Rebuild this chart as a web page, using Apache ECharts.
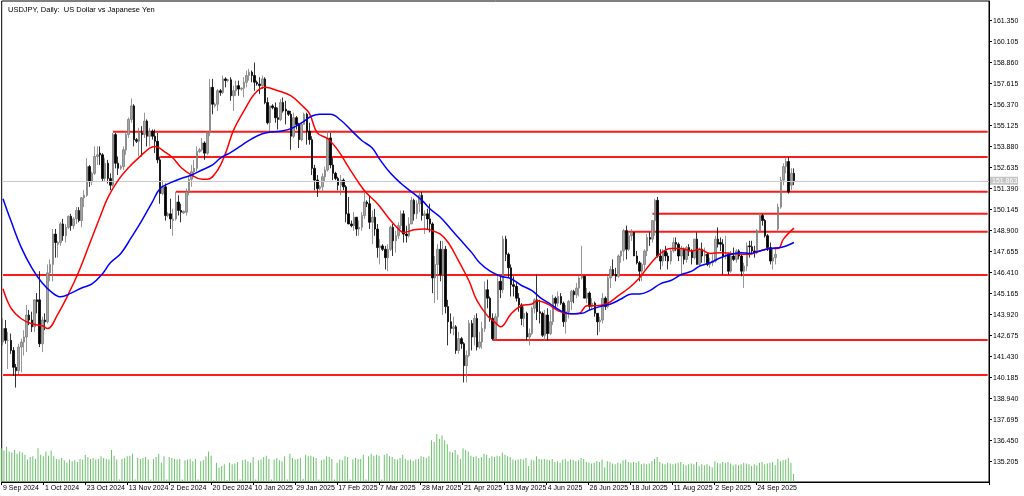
<!DOCTYPE html>
<html><head><meta charset="utf-8">
<script src="https://cdn.jsdelivr.net/npm/echarts@6/dist/echarts.min.js"></script>
<style>html,body{margin:0;padding:0;background:#fff}#c{width:1024px;height:496px}</style>
</head><body><div id="c"></div>
<script>
const chartTitle = 'USDJPY, Daily:  US Dollar vs Japanese Yen';
const lastPrice = 151.863;
const yTicks = [161.350,160.105,158.860,157.615,156.370,155.125,153.880,152.635,151.390,150.145,148.900,147.655,146.410,145.165,143.920,142.675,141.430,140.185,138.940,137.695,136.450,135.205];
const xTickLabels = ['9 Sep 2024','1 Oct 2024','23 Oct 2024','13 Nov 2024','2 Dec 2024','20 Dec 2024','10 Jan 2025','29 Jan 2025','17 Feb 2025','7 Mar 2025','28 Mar 2025','21 Apr 2025','13 May 2025','4 Jun 2025','26 Jun 2025','18 Jul 2025','11 Aug 2025','2 Sep 2025','24 Sep 2025'];
// daily bars: [open, high, low, close]
const ohlc = [
[142.3,143.7,142.1,143.1],[143.1,143.6,142.2,142.4],[142.4,142.9,140.7,142.4],[142.4,142.8,141.6,141.8],[141.8,142.0,140.3,140.8],
[140.8,141.0,139.6,140.6],[140.6,142.2,140.4,142.0],[142.0,142.5,140.5,142.3],[142.3,143.0,141.5,142.6],[142.6,144.5,141.7,143.9],
[143.9,144.2,143.3,143.6],[143.6,144.1,142.9,143.2],[143.2,144.8,142.9,144.8],[144.8,145.2,144.0,144.7],[144.8,146.5,142.0,142.2],
[142.2,143.8,141.7,143.6],[143.6,144.0,143.0,143.5],[143.5,146.9,143.4,146.4],[146.4,147.2,145.9,146.9],[146.9,149.0,145.9,148.7],
[148.7,149.0,147.3,148.2],[148.1,148.3,147.3,148.2],[148.2,149.4,148.0,149.3],[149.3,149.6,148.3,148.6],[148.6,149.3,148.2,149.1],
[149.1,149.8,149.0,149.75],[149.75,149.9,148.9,149.2],[149.2,149.7,149.0,149.6],[149.6,150.3,149.3,150.1],[150.1,150.3,149.4,149.5],
[149.5,150.9,149.1,150.85],[150.85,151.3,150.3,151.0],[151.0,153.2,150.9,152.7],[152.7,152.8,151.5,151.8],[151.8,152.4,151.6,152.3],
[152.3,153.9,152.2,153.3],[153.3,153.9,152.8,153.4],[153.5,153.9,152.8,153.4],[153.4,153.5,151.8,152.0],[152.0,153.2,151.8,152.9],
[152.9,153.1,151.7,152.0],[152.0,152.3,151.3,151.6],[151.6,154.7,151.5,154.6],[154.6,154.7,152.6,152.9],[152.9,153.3,152.2,152.6],
[152.6,152.8,152.5,152.7],[152.7,153.9,152.5,153.7],[153.7,154.8,153.4,154.6],[154.6,155.6,154.4,155.5],[155.5,156.75,155.3,156.3],
[156.3,156.4,153.9,154.3],[154.3,154.4,154.1,154.2],[154.2,155.0,153.3,154.7],[154.7,155.1,153.3,154.6],[154.6,155.9,154.4,155.4],
[155.4,155.5,153.9,154.5],[154.5,155.0,153.9,154.8],[154.8,154.9,154.3,154.5],[154.5,154.9,153.5,154.2],[154.2,154.7,152.9,153.1],
[153.1,153.3,150.5,151.1],[151.1,151.9,151.0,151.5],[151.5,151.7,149.5,149.8],[149.8,150.0,149.7,149.9],[149.9,150.8,149.0,149.6],
[149.5,150.2,148.6,149.6],[149.6,151.2,149.5,150.6],[150.6,151.0,149.8,150.1],[150.1,150.5,149.4,150.0],[149.95,150.1,149.9,150.05],
[150.0,151.4,149.8,151.2],[151.2,152.1,151.0,151.95],[151.95,152.8,151.5,152.4],[152.4,153.1,152.1,152.6],[152.6,153.9,152.4,153.6],
[153.6,153.8,153.5,153.7],[153.7,154.4,153.6,154.1],[154.1,154.2,153.1,153.5],[153.5,154.8,153.4,154.7],[154.7,157.9,154.5,157.4],
[157.4,157.9,155.8,156.4],[156.3,156.5,156.2,156.4],[156.4,157.3,156.0,157.2],[157.2,157.3,156.9,157.1],[157.1,158.1,157.0,157.9],
[157.9,158.0,157.4,157.8],[157.8,157.9,157.7,157.85],[157.85,158.0,156.6,156.9],[156.9,157.5,156.0,157.2],[157.2,157.8,156.9,157.5],
[157.5,157.8,156.9,157.3],[157.3,157.4,157.2,157.35],[157.35,158.0,156.8,157.7],[157.7,158.4,157.4,158.1],[158.1,158.5,157.8,158.3],
[158.3,158.4,157.7,158.1],[158.1,158.87,157.2,157.7],[157.7,157.8,157.5,157.6],[157.6,158.0,157.0,157.5],[157.5,158.1,157.3,157.9],
[157.9,158.0,156.4,156.5],[156.5,156.8,155.2,155.3],[155.3,156.3,154.8,156.3],[156.3,156.4,156.1,156.2],[156.2,156.5,155.3,155.6],
[155.6,156.2,154.9,155.5],[155.5,156.7,155.4,156.5],[156.5,156.8,155.9,156.0],[156.1,156.6,155.2,156.0],[156.0,156.0,155.7,155.8],
[155.8,156.0,153.7,154.5],[154.5,155.9,154.4,155.6],[155.6,155.7,154.9,155.2],[155.2,155.3,153.8,154.3],[154.3,155.3,154.2,155.2],
[155.2,155.9,155.2,155.8],[155.8,155.9,154.0,154.8],[154.8,155.3,154.0,154.3],[154.3,154.5,152.2,152.6],[152.6,152.8,151.3,151.9],
[151.9,152.2,150.9,151.4],[151.4,151.6,151.3,151.5],[151.5,152.3,151.2,152.1],[152.1,152.7,151.8,152.5],[152.5,154.8,152.4,154.4],
[154.4,154.7,152.6,152.8],[152.8,153.2,151.9,152.3],[152.3,152.4,151.9,152.0],[152.0,152.1,151.3,151.6],[151.6,152.2,151.0,151.9],
[151.9,152.0,151.3,151.5],[151.5,151.6,149.4,149.9],[149.9,150.9,149.3,149.3],[149.3,149.5,149.1,149.2],[149.2,150.0,148.9,149.7],
[149.7,149.7,148.6,149.0],[149.0,149.5,148.6,149.1],[149.1,150.0,148.9,149.8],[149.8,151.2,149.6,150.6],[150.6,150.7,150.3,150.5],
[150.5,151.0,149.0,149.4],[149.4,150.1,148.1,149.7],[149.7,150.2,148.6,149.0],[149.0,149.3,147.3,147.9],[147.9,148.4,146.9,148.0],
[148.0,148.1,147.7,147.8],[147.8,148.0,146.6,147.3],[147.3,148.1,146.5,147.8],[147.8,149.2,147.7,149.1],[149.1,149.3,147.4,148.3],
[148.3,148.9,147.6,148.6],[148.6,149.4,148.4,149.2],[149.2,150.1,149.0,149.9],[149.9,150.1,148.2,148.7],[148.7,149.2,148.2,148.6],
[148.6,149.7,148.5,149.3],[149.3,150.9,149.3,150.7],[150.7,150.8,149.5,149.9],[149.9,150.7,149.6,150.5],[150.5,151.2,150.0,151.0],
[151.0,151.2,149.5,149.8],[149.8,150.1,148.7,149.9],[149.9,150.2,149.0,149.6],[149.6,150.5,148.8,149.3],[149.3,149.4,145.2,146.1],
[146.1,147.4,144.6,146.9],[146.9,148.1,144.8,147.8],[147.8,148.3,145.9,146.3],[146.3,148.3,143.9,147.8],[147.8,148.0,144.0,144.4],
[144.4,144.8,142.1,143.5],[143.5,144.0,142.8,143.1],[143.1,143.8,142.7,143.2],[143.2,143.3,141.6,141.8],[141.8,142.9,141.6,142.5],
[142.5,142.6,141.9,142.2],[142.2,142.3,139.9,140.9],[140.9,141.8,139.9,141.5],[141.5,143.6,141.4,143.4],[143.4,143.6,141.8,142.6],
[142.6,143.9,142.1,143.7],[143.7,144.0,141.8,142.0],[142.0,142.9,141.9,142.3],[142.3,143.5,141.9,143.1],[143.1,145.9,142.9,145.4],
[145.4,146.0,144.3,144.9],[144.9,145.0,143.5,143.7],[143.7,144.0,142.4,142.5],[142.5,144.0,142.4,143.8],[143.8,146.2,143.4,145.9],
[145.9,146.2,144.9,145.4],[145.4,148.6,145.2,148.4],[148.4,148.6,147.1,147.5],[147.5,147.6,146.1,146.7],[146.7,146.9,145.0,145.7],
[145.7,146.2,145.0,145.6],[145.6,145.8,144.7,144.9],[144.9,145.2,144.1,144.5],[144.5,144.6,143.3,143.7],[143.7,144.4,143.2,144.0],
[144.0,144.1,142.4,142.6],[142.6,143.1,142.1,142.8],[142.8,144.4,142.7,144.3],[144.3,144.9,144.0,144.8],[144.8,146.3,143.6,144.1],
[144.1,144.8,143.4,144.0],[144.0,144.1,142.6,142.7],[142.7,144.2,142.4,143.9],[143.9,144.3,142.4,142.8],[142.8,144.2,142.7,143.5],
[143.5,145.1,143.3,144.9],[144.9,145.0,144.2,144.6],[144.6,145.3,144.4,145.0],[145.0,145.2,144.5,144.6],[144.6,144.7,143.2,143.5],
[143.5,144.5,142.8,144.1],[144.1,144.8,143.7,144.7],[144.7,145.4,144.2,145.3],[145.3,145.4,144.6,145.1],[145.1,145.8,144.9,145.5],
[145.5,146.2,145.0,146.1],[146.1,148.0,146.0,146.2],[146.2,146.2,144.9,144.9],[144.9,145.5,144.6,145.2],[145.2,145.3,144.2,144.4],
[144.4,144.9,144.2,144.6],[144.6,144.7,143.8,144.0],[144.0,144.0,142.7,143.5],[143.5,143.8,142.9,143.6],[143.6,145.2,143.4,144.9],
[144.9,145.0,144.2,144.4],[144.4,146.2,144.3,146.1],[146.1,146.8,145.5,146.6],[146.6,147.2,146.2,146.3],[146.3,146.7,145.9,146.2],
[146.2,147.5,146.1,147.4],[147.4,147.7,147.0,147.7],[147.7,149.0,147.1,148.9],[148.9,149.2,147.2,147.8],[147.8,148.8,147.7,148.6],
[148.6,149.0,148.3,148.8],[148.8,148.8,147.4,147.4],[147.4,147.7,146.9,147.0],[147.0,147.1,145.9,146.5],[146.5,147.0,145.9,146.9],
[146.9,147.8,146.6,147.7],[147.7,148.7,147.4,148.5],[148.5,148.8,148.0,148.4],[148.4,149.5,148.2,149.5],[149.5,150.8,148.6,150.7],
[150.7,150.9,147.3,147.4],[147.4,147.8,146.6,147.1],[147.1,147.8,146.8,147.7],[147.7,148.0,147.1,147.4],[147.4,147.6,146.6,147.1],
[147.1,147.8,146.9,147.7],[147.7,148.5,147.6,148.2],[148.2,148.5,147.7,148.1],[148.1,148.2,147.1,147.4],[147.4,148.0,146.2,147.8],
[147.8,147.9,146.9,147.2],[147.2,148.0,147.0,147.9],[147.9,148.1,147.4,147.7],[147.7,147.8,146.9,147.3],[147.3,148.4,147.2,148.4],
[148.4,148.8,146.9,146.9],[146.9,147.9,146.8,147.8],[147.8,148.2,147.0,147.4],[147.4,147.9,147.0,147.5],[147.5,147.6,146.8,146.9],
[146.9,147.3,146.7,147.0],[147.0,147.5,146.8,147.1],[147.1,148.6,147.0,148.4],[148.4,149.1,147.9,148.1],[148.2,148.5,147.7,148.1],
[148.1,148.4,146.3,147.4],[147.4,148.6,147.2,147.5],[147.5,147.6,146.3,146.5],[146.5,147.7,146.4,147.4],[147.4,147.9,147.1,147.2],
[147.2,147.8,147.0,147.7],[147.7,147.8,147.2,147.4],[147.4,147.5,146.2,146.5],[146.5,147.0,145.5,146.8],[146.8,148.2,146.5,148.0],
[148.0,148.3,147.3,147.95],[147.95,148.3,147.5,147.7],[147.7,148.0,147.3,147.6],[147.6,149.0,147.5,148.9],[148.9,149.96,148.8,149.8],
[149.8,149.9,149.2,149.5],[149.5,149.6,148.5,148.6],[148.6,148.7,147.7,147.9],[147.9,148.2,146.9,147.1],[147.1,147.8,146.6,147.3],
[147.3,147.9,146.9,147.5],[149.0,150.5,148.9,150.3],[150.3,152.1,150.2,151.9],[151.9,152.9,151.6,152.7],[152.7,153.2,152.3,153.0],
[153.0,153.27,151.1,151.2],[151.6,152.6,151.3,152.3],[152.3,152.6,151.6,151.863]
];
// tick volume per bar
const volumes = [
105,98,110,95,92,100,88,95,92,85,70,78,80,72,105,85,
80,95,82,98,80,72,70,75,68,60,70,65,68,62,72,70,85,78,72,75,70,72,80,
75,72,70,100,82,70,
8,72,75,80,82,88, 8,75,72,75,78,70, 8,72,78,88,60,80, 8,78,75,72,70,72, 8,68,70,72,65,72, 8,65,68,80,95,82,
6,60,45,50,55, 6,60,55,58,62,
8,68,70,65,60,78, 8,68,70,78,82,72, 8,70,75,68,65,80, 8,88,75,70,72,75, 10,85,80,82,78,75,
8,68,70,80,78,72, 8,60,70,68,80,78, 8,70,75,72,72,85, 8,80,88,82,85,82, 8,85,88,80,78,72,
70,75,85,72,68, 70,65,70,72,80, 78,75,80,130,125, 150,135,145,130,118, 95,92,100,85,72,
105,100,95,82,78, 80,75,78,88,85, 75,80,78,82,80, 92,85,80,78,70, 68,70,72,70,75,
50,70,68,80,72, 70,72,70,68,72, 62,65,60,70,72, 65,70,68,65,68, 75,72,62,60,58,
60,65,62,70,45, 65,62,58,55,60, 58,68,70,62,60, 62,60,65,55,58, 55,58,65,72,78,
62,58,55,60,58, 55,58,60,62,55, 52,55,58,55,62, 50,55,52,55,50, 45,65,60,58,62,
60,62,58,52,55, 52,55,60,58,55, 50,55,52,60,62, 55,58,60,62,52, 72,65,68,70,75, 60,25
];
// moving averages: [bar index, value]
const maFast = [[0,145.46],[3,144.33],[7,143.68],[11,143.38],[15,143.26],[17,143.1],[21,143.97],[25,145.15],[29,146.5],[33,148.1],[37,149.7],[40,150.85],[44,151.9],[48,152.65],[52,153.25],[56,153.8],[58,153.9],[62,153.55],[65,153.2],[68,152.65],[72,152.2],[76,151.95],[78,151.95],[82,152.5],[85,153.5],[88,154.85],[92,156.0],[96,157.0],[100,157.4],[105,157.2],[110,156.9],[114,156.35],[117,155.85],[120,154.7],[124,154.35],[128,153.65],[132,152.65],[136,151.7],[139,151.1],[143,150.5],[147,149.7],[151,149.0],[153,148.8],[157,148.95],[161,149.0],[163,148.95],[167,148.7],[170,148.2],[174,147.1],[178,145.9],[181,144.75],[185,143.85],[188,143.45],[190,143.2],[194,143.97],[198,144.45],[202,144.55],[204,144.75],[208,144.55],[212,144.15],[216,143.97],[220,144.0],[223,144.45],[227,144.45],[231,144.6],[235,145.05],[239,145.5],[243,146.1],[247,146.9],[251,147.55],[255,147.85],[259,147.85],[263,147.7],[266,147.8],[270,147.55],[274,147.6],[278,147.55],[282,147.5],[285,147.5],[289,147.7],[293,147.85],[296,147.85],[298,148.4],[302,149.05]];
const maSlow = [[0,150.8],[3,149.5],[7,147.9],[11,146.7],[15,145.8],[19,145.2],[22,144.98],[26,145.2],[30,145.5],[34,145.75],[38,146.35],[41,147.0],[45,147.55],[49,148.5],[53,149.5],[57,150.6],[60,151.4],[64,151.75],[68,152.0],[72,152.2],[76,152.5],[80,152.8],[83,153.2],[87,153.55],[91,153.95],[95,154.35],[99,154.65],[102,154.75],[106,154.8],[110,154.95],[114,155.3],[118,155.7],[121,155.8],[125,155.8],[129,155.45],[133,154.85],[137,154.25],[141,153.8],[144,153.1],[148,152.3],[152,151.7],[156,151.2],[160,150.7],[163,150.2],[167,149.7],[171,149.0],[175,148.3],[179,147.6],[182,147.0],[186,146.5],[190,146.2],[194,146.05],[198,145.65],[202,145.35],[205,144.95],[209,144.55],[213,144.15],[217,143.97],[221,144.0],[224,144.2],[228,144.4],[232,144.55],[236,144.85],[240,145.15],[243,145.15],[247,145.35],[251,145.75],[255,145.95],[259,146.3],[263,146.5],[266,146.8],[270,147.0],[274,147.3],[278,147.5],[282,147.6],[285,147.55],[289,147.7],[293,147.85],[297,147.9],[302,148.2]];
// horizontal levels: [price, first bar index]
const levels = [[154.77,42],[153.27,60],[151.21,66],[149.91,248],[148.84,237],[146.27,0],[142.42,187],[140.34,0]];

// trading-day categories (broker calendar: weekdays, plus Sunday bars in winter, no Dec 25 / Jan 1)
const MON = ['Jan','Feb','Mar','Apr','May','Jun','Jul','Aug','Sep','Oct','Nov','Dec'];
const dates = [];
for (let d = new Date(Date.UTC(2024,8,9)); dates.length < ohlc.length; d.setUTCDate(d.getUTCDate()+1)) {
  const wd = d.getUTCDay(), t = d.getTime(), m = d.getUTCMonth(), dd = d.getUTCDate();
  const sunBar = wd === 0 && t >= Date.UTC(2024,10,10) && t <= Date.UTC(2025,2,9);
  const hol = (m === 11 && dd === 25) || (m === 0 && dd === 1);
  if ((wd >= 1 && wd <= 5 && !hol) || sunBar) dates.push(dd + ' ' + MON[m] + ' ' + d.getUTCFullYear());
}
const SHIFT = 74; // empty right-side space
const cats = dates.concat(Array.from({length: SHIFT}, (_, k) => '_' + k));
const lastIdx = cats.length - 1;

const FONT = 'Liberation Sans';
const chart = echarts.init(document.getElementById('c'), null, {renderer: 'canvas'});
const showTick = (i, v) => xTickLabels.indexOf(v) >= 0;

const series = [
  {type: 'bar', xAxisIndex: 1, yAxisIndex: 1, data: volumes, barWidth: 1, itemStyle: {color: '#6cc36c'}, silent: true, animation: false},
];
levels.forEach(l => series.push({
  type: 'line', data: [[l[1], l[0]], [lastIdx, l[0]]], symbol: 'none', silent: true, animation: false,
  lineStyle: {color: '#ff1a1a', width: 2}, z: 3
}));
series.push({
  type: 'candlestick', data: ohlc.map(r => [r[0], r[3], r[2], r[1]]), barWidth: 2, animation: false, z: 4,
  itemStyle: {color: '#a6a6a6', color0: '#000000', borderColor: '#7c7c7c', borderColor0: '#000000', borderWidth: 0.8},
  markLine: {symbol: 'none', silent: true, animation: false, label: {show: false},
    lineStyle: {color: '#c8c8c8', width: 1, type: 'solid'}, data: [{yAxis: lastPrice}]}
});
series.push({type: 'line', data: maFast, smooth: 0.4, symbol: 'none', silent: true, animation: false, lineStyle: {color: '#ff0000', width: 1.5}, z: 5});
series.push({type: 'line', data: maSlow, smooth: 0.4, symbol: 'none', silent: true, animation: false, lineStyle: {color: '#0000ff', width: 1.5}, z: 5});

chart.setOption({
  backgroundColor: '#ffffff',
  animation: false,
  title: {text: chartTitle, left: 3, top: 1, textStyle: {fontFamily: FONT, fontSize: 7.5, fontWeight: 'normal', color: '#000'}},
  grid: [
    {left: 0, right: 35, top: 1, bottom: 14, show: true, borderColor: '#000', borderWidth: 1, backgroundColor: '#fff'},
    {left: 0, right: 35, top: 1, bottom: 14}
  ],
  xAxis: [
    {type: 'category', data: cats, gridIndex: 0, boundaryGap: true,
     axisLine: {show: true, lineStyle: {color: '#000'}},
     axisTick: {show: true, interval: showTick, length: 3, lineStyle: {color: '#000'}},
     axisLabel: {interval: showTick, align: 'left', margin: 3, fontFamily: FONT, fontSize: 7, color: '#000', hideOverlap: false},
     splitLine: {show: false}},
    {type: 'category', data: cats, gridIndex: 1, boundaryGap: true, show: false}
  ],
  yAxis: [
    {type: 'value', position: 'right', min: 134.0, max: 162.52, gridIndex: 0, scale: true,
     axisLine: {show: true, lineStyle: {color: '#000'}},
     axisTick: {show: true, length: 3, customValues: yTicks, lineStyle: {color: '#000'}},
     axisLabel: {customValues: yTicks, formatter: v => Number(v).toFixed(3), margin: 4, fontFamily: FONT, fontSize: 7, color: '#000'},
     splitLine: {show: false}},
    {type: 'value', min: 0, max: 1500, gridIndex: 1, show: false, splitLine: {show: false}}
  ],
  series: series
});

const py = chart.convertToPixel({yAxisIndex: 0}, lastPrice);
chart.setOption({graphic: [{
  type: 'group', left: 990, top: py - 4, children: [
    {type: 'rect', shape: {x: 0, y: 0, width: 28, height: 8}, style: {fill: '#c4c4c4'}},
    {type: 'text', x: 2, y: 0.5, style: {text: lastPrice.toFixed(3), fill: '#ffffff', font: '7px ' + FONT}}
  ]}]});
</script></body></html>
